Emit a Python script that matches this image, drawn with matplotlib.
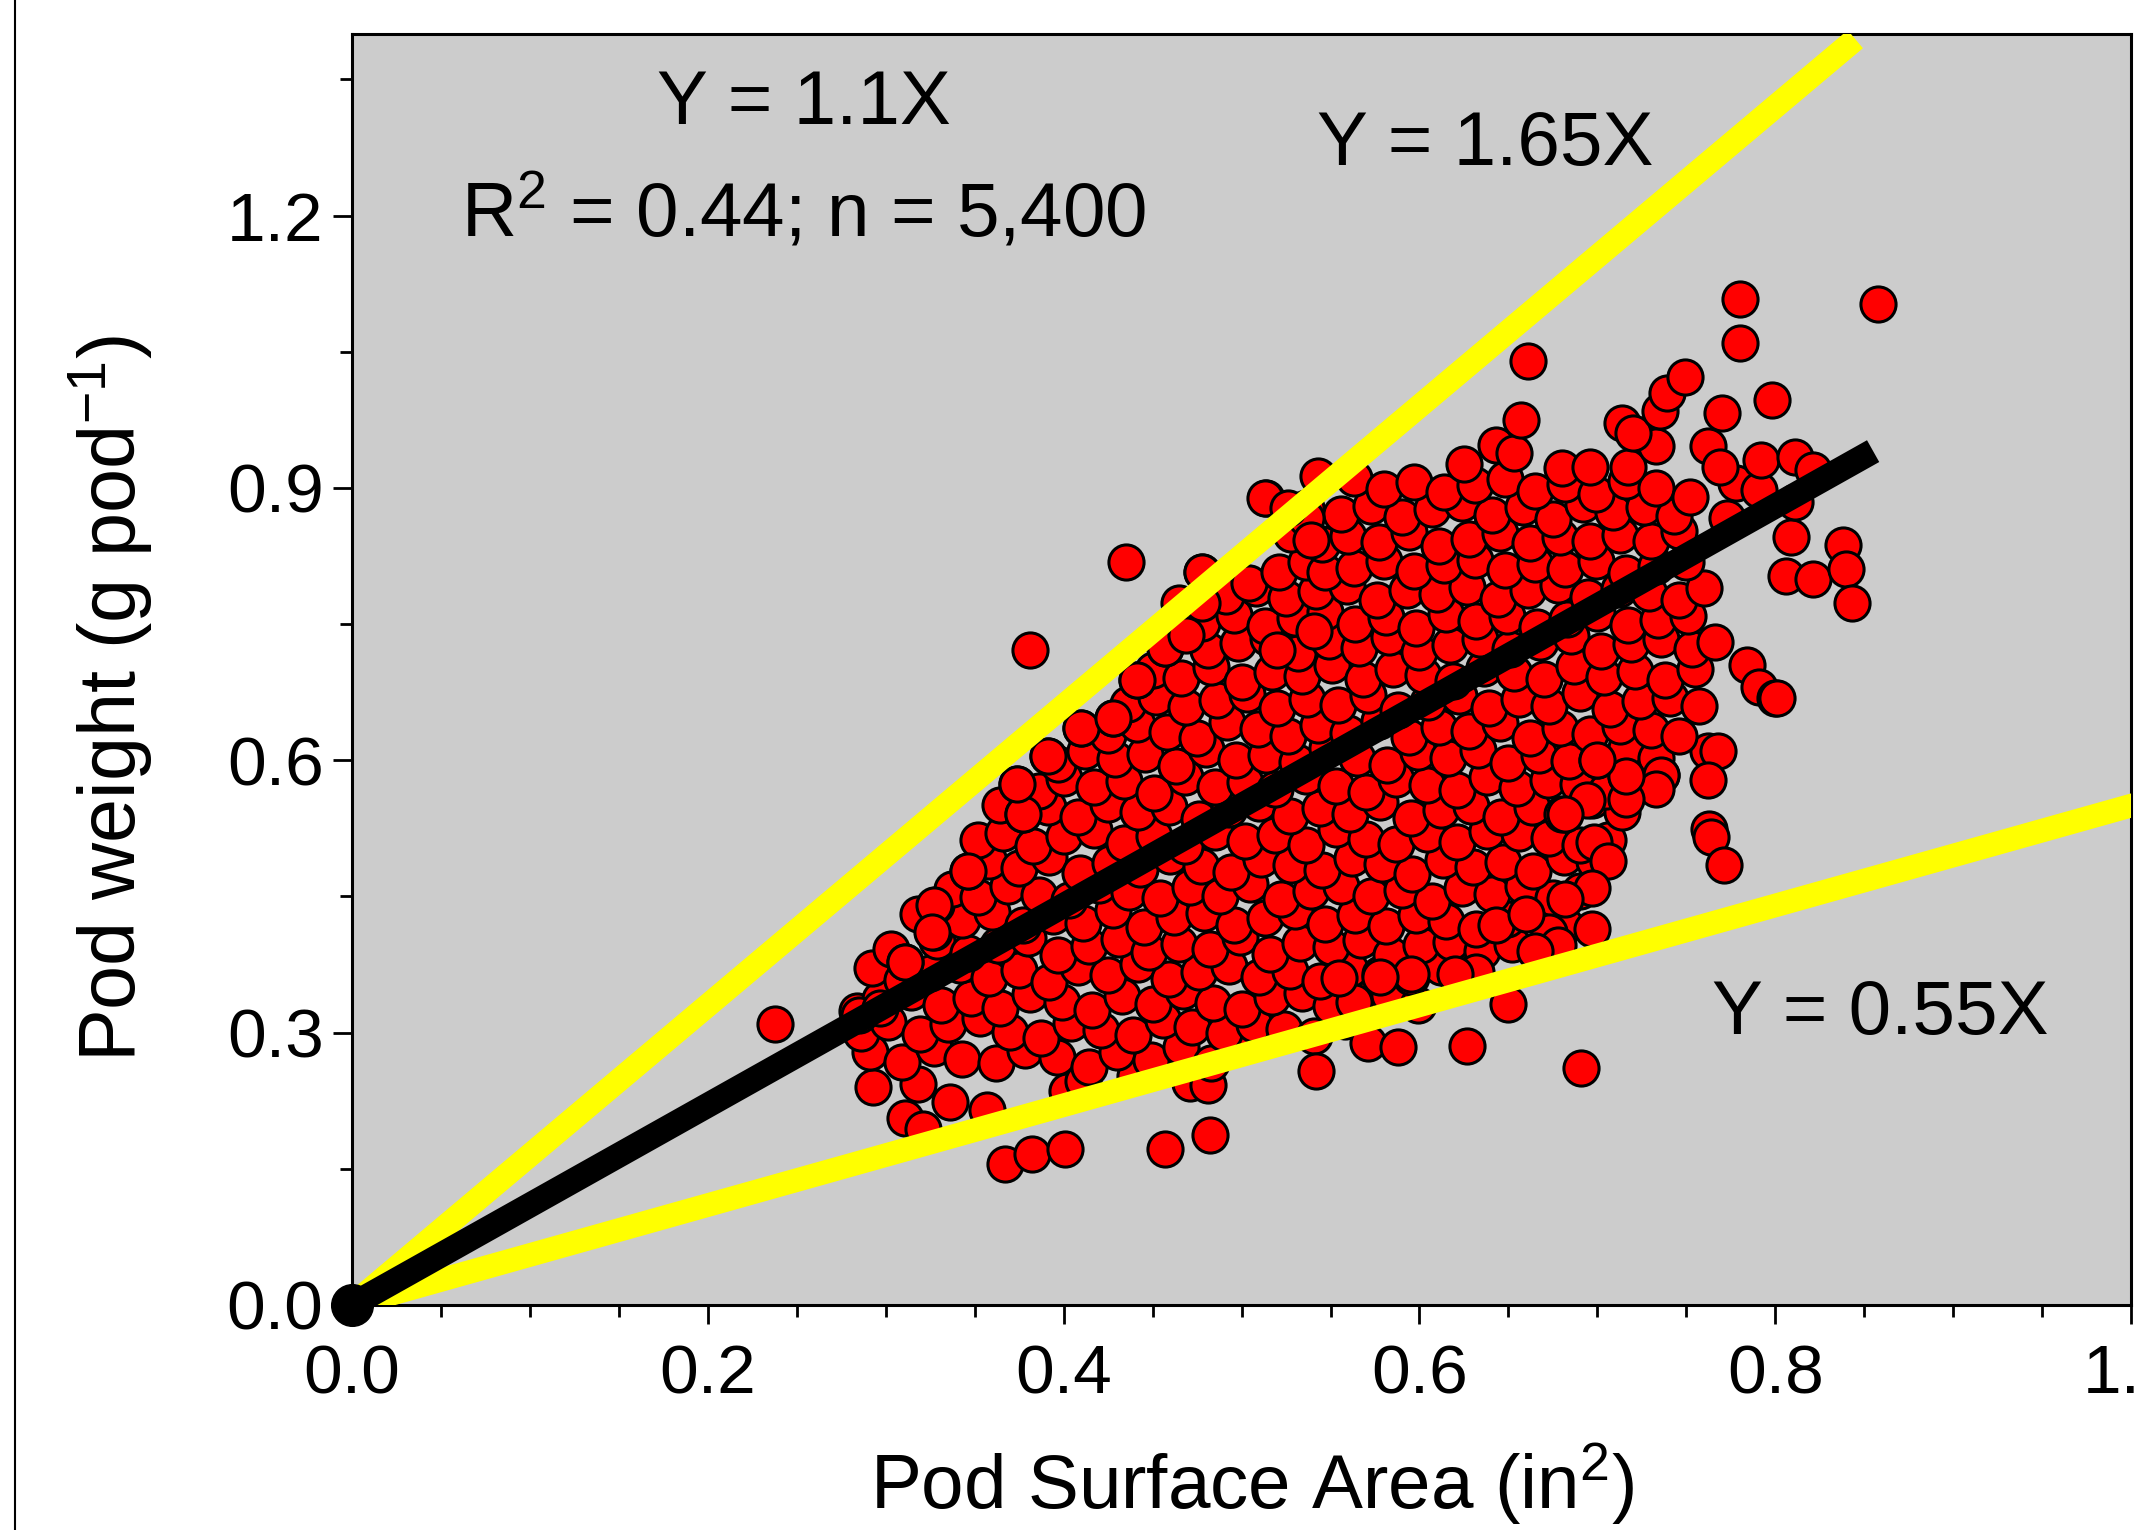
import matplotlib.pyplot as plt
from matplotlib.lines import Line2D
from matplotlib.ticker import MultipleLocator, FormatStrFormatter

plt.rcParams['font.family'] = ['Liberation Sans', 'DejaVu Sans']

pod_area = [
    0.293, 0.318, 0.336, 0.357, 0.402, 0.411, 0.440, 0.471, 0.481,
    0.291, 0.309, 0.327, 0.343, 0.362, 0.378, 0.396, 0.414, 0.430, 0.449, 0.466, 0.483, 0.499,
    0.286, 0.301, 0.319, 0.335, 0.353, 0.370, 0.387, 0.404, 0.421, 0.439,
    0.456, 0.472, 0.490, 0.507, 0.524, 0.541, 0.558,
    0.284, 0.297, 0.314, 0.331, 0.348, 0.364, 0.381, 0.399, 0.416, 0.433,
    0.450, 0.467, 0.484, 0.500, 0.517, 0.534, 0.550, 0.566, 0.583, 0.599,
    0.292, 0.309, 0.325, 0.342, 0.358, 0.375, 0.392, 0.408, 0.425, 0.442,
    0.459, 0.476, 0.493, 0.510, 0.527, 0.544, 0.561, 0.578, 0.595, 0.612, 0.630,
    0.303, 0.311, 0.329, 0.346, 0.363, 0.380, 0.397, 0.414, 0.431, 0.448,
    0.465, 0.482, 0.499, 0.516, 0.533, 0.550, 0.567, 0.584, 0.601, 0.618, 0.635, 0.652, 0.670,
    0.318, 0.327, 0.343, 0.360, 0.377, 0.394, 0.411, 0.428, 0.445, 0.462,
    0.479, 0.496, 0.513, 0.530, 0.547, 0.564, 0.581, 0.598, 0.615, 0.632, 0.649, 0.666, 0.682,
    0.328, 0.337, 0.352, 0.369, 0.386, 0.403, 0.420, 0.437, 0.454, 0.471,
    0.488, 0.505, 0.522, 0.539, 0.556, 0.573, 0.590, 0.607, 0.624, 0.641, 0.658, 0.675, 0.690,
    0.346, 0.358, 0.375, 0.392, 0.409, 0.426, 0.443, 0.460, 0.477, 0.494,
    0.511, 0.528, 0.545, 0.562, 0.579, 0.596, 0.613, 0.630, 0.647, 0.664, 0.681, 0.698,
    0.352, 0.366, 0.383, 0.400, 0.417, 0.434, 0.451, 0.468, 0.485, 0.502,
    0.519, 0.536, 0.553, 0.570, 0.587, 0.604, 0.621, 0.638, 0.656, 0.673, 0.690, 0.706,
    0.364, 0.377, 0.391, 0.408, 0.425, 0.442, 0.459, 0.476, 0.493, 0.510,
    0.527, 0.544, 0.561, 0.578, 0.595, 0.612, 0.629, 0.646, 0.663, 0.680, 0.697, 0.714,
    0.374, 0.386, 0.400, 0.417, 0.434, 0.451, 0.468, 0.485, 0.502, 0.519,
    0.536, 0.553, 0.570, 0.587, 0.604, 0.621, 0.638, 0.655, 0.672, 0.689, 0.705, 0.716, 0.736,
    0.391, 0.397, 0.412, 0.429, 0.446, 0.463, 0.480, 0.497, 0.514, 0.531,
    0.548, 0.565, 0.582, 0.599, 0.616, 0.633, 0.650, 0.667, 0.684, 0.700, 0.716, 0.733, 0.762,
    0.410, 0.425, 0.441, 0.458, 0.475, 0.492, 0.509, 0.526, 0.543, 0.560,
    0.577, 0.594, 0.611, 0.628, 0.645, 0.662, 0.679, 0.696, 0.713, 0.730, 0.746,
    0.428, 0.436, 0.452, 0.469, 0.486, 0.503, 0.520, 0.537, 0.554, 0.571,
    0.588, 0.605, 0.622, 0.639, 0.656, 0.673, 0.690, 0.707, 0.724, 0.741, 0.757,
    0.441, 0.450, 0.466, 0.483, 0.500, 0.517, 0.534, 0.551, 0.568, 0.585,
    0.602, 0.619, 0.636, 0.653, 0.670, 0.687, 0.704, 0.721, 0.738, 0.755, 0.784, 0.791, 0.800,
    0.457, 0.465, 0.481, 0.498, 0.515, 0.532, 0.549, 0.566, 0.583, 0.600,
    0.617, 0.634, 0.651, 0.668, 0.685, 0.702, 0.719, 0.736, 0.753, 0.766,
    0.465, 0.478, 0.496, 0.513, 0.530, 0.547, 0.564, 0.581, 0.598, 0.615,
    0.632, 0.649, 0.666, 0.683, 0.700, 0.717, 0.734, 0.751,
    0.478, 0.491, 0.508, 0.525, 0.542, 0.559, 0.576, 0.593, 0.610, 0.627,
    0.644, 0.661, 0.678, 0.695, 0.712, 0.729, 0.746, 0.760,
    0.504, 0.521, 0.536, 0.547, 0.563, 0.580, 0.597, 0.614, 0.631, 0.648,
    0.665, 0.682, 0.699, 0.716, 0.733, 0.750,
    0.528, 0.545, 0.560, 0.577, 0.594, 0.611, 0.628, 0.645, 0.662, 0.679,
    0.696, 0.713, 0.730, 0.746, 0.809,
    0.514, 0.536, 0.556, 0.573, 0.590, 0.607, 0.624, 0.641, 0.658, 0.675,
    0.692, 0.709, 0.726, 0.743, 0.773, 0.811,
    0.563, 0.580, 0.597, 0.614, 0.631, 0.648, 0.665, 0.682, 0.699, 0.716,
    0.733, 0.752, 0.778, 0.791,
    0.625, 0.643, 0.653, 0.680, 0.696, 0.717, 0.733, 0.762, 0.769, 0.792,
    0.811, 0.821,
    # stragglers below the cloud
    0.238, 0.311, 0.321, 0.367, 0.382, 0.401, 0.457, 0.482, 0.542, 0.571,
    0.588, 0.627, 0.691,
    # stragglers above the cloud
    0.435, 0.381, 0.478, 0.478, 0.513, 0.536, 0.539, 0.543, 0.657, 0.661,
    0.714, 0.720, 0.735, 0.739, 0.749, 0.770, 0.798, 0.780, 0.780, 0.858,
    # right-hand edge
    0.806, 0.821, 0.838, 0.840, 0.843, 0.801, 0.768, 0.762, 0.763, 0.764,
    0.771, 0.736, 0.733, 0.716, 0.716, 0.700, 0.694, 0.682, 0.698, 0.706,
    0.697, 0.682, 0.697, 0.673, 0.678, 0.665, 0.643, 0.660, 0.650, 0.632,
    0.620, 0.595, 0.578, 0.563, 0.555,
    # left-hand edge
    0.285, 0.297, 0.311, 0.327, 0.326, 0.346, 0.377, 0.374, 0.391, 0.410,
    0.428, 0.441, 0.457, 0.469, 0.520, 0.541, 0.526,
]

# pod weight (g pod^-1), same order
pod_weight = [
    0.240, 0.243, 0.223, 0.215, 0.236, 0.247, 0.252, 0.245, 0.242,
    0.279, 0.268, 0.283, 0.271, 0.266, 0.281, 0.273, 0.262, 0.279, 0.270, 0.284, 0.266, 0.288,
    0.300, 0.312, 0.298, 0.309, 0.316, 0.301, 0.294, 0.311, 0.303, 0.297,
    0.314, 0.306, 0.299, 0.310, 0.304, 0.296, 0.313,
    0.324, 0.337, 0.345, 0.330, 0.338, 0.327, 0.342, 0.334, 0.325, 0.340,
    0.331, 0.346, 0.333, 0.326, 0.339, 0.344, 0.329, 0.336, 0.341, 0.330,
    0.371, 0.358, 0.366, 0.374, 0.360, 0.369, 0.356, 0.372, 0.363, 0.375,
    0.359, 0.367, 0.373, 0.361, 0.368, 0.357, 0.370, 0.364, 0.361, 0.372, 0.366,
    0.392, 0.378, 0.401, 0.388, 0.397, 0.404, 0.386, 0.395, 0.403, 0.389,
    0.398, 0.392, 0.405, 0.387, 0.399, 0.394, 0.402, 0.385, 0.396, 0.400, 0.390, 0.398, 0.393,
    0.431, 0.411, 0.424, 0.433, 0.418, 0.428, 0.421, 0.435, 0.416, 0.427,
    0.432, 0.419, 0.426, 0.434, 0.420, 0.429, 0.417, 0.430, 0.423, 0.414, 0.425, 0.431, 0.419,
    0.441, 0.458, 0.449, 0.461, 0.452, 0.446, 0.463, 0.455, 0.448, 0.460,
    0.451, 0.464, 0.447, 0.456, 0.462, 0.450, 0.457, 0.445, 0.459, 0.453, 0.461, 0.448, 0.456,
    0.478, 0.489, 0.481, 0.493, 0.476, 0.487, 0.480, 0.494, 0.483, 0.477,
    0.491, 0.485, 0.479, 0.492, 0.486, 0.475, 0.490, 0.482, 0.488, 0.478, 0.493, 0.489,
    0.512, 0.520, 0.506, 0.517, 0.523, 0.509, 0.516, 0.505, 0.521, 0.511,
    0.518, 0.507, 0.524, 0.513, 0.508, 0.519, 0.510, 0.522, 0.520, 0.514, 0.507, 0.512,
    0.551, 0.541, 0.548, 0.537, 0.552, 0.543, 0.549, 0.535, 0.546, 0.553,
    0.539, 0.547, 0.541, 0.554, 0.536, 0.545, 0.550, 0.538, 0.548, 0.541, 0.556, 0.543,
    0.574, 0.566, 0.580, 0.571, 0.577, 0.564, 0.582, 0.570, 0.576, 0.568,
    0.583, 0.572, 0.565, 0.579, 0.573, 0.567, 0.581, 0.569, 0.578, 0.574, 0.566, 0.583, 0.584,
    0.605, 0.596, 0.610, 0.601, 0.607, 0.594, 0.612, 0.600, 0.606, 0.598,
    0.613, 0.603, 0.595, 0.609, 0.602, 0.611, 0.597, 0.606, 0.599, 0.600, 0.614, 0.603, 0.610,
    0.636, 0.628, 0.640, 0.631, 0.625, 0.642, 0.634, 0.627, 0.639, 0.630,
    0.643, 0.626, 0.637, 0.632, 0.641, 0.624, 0.635, 0.629, 0.638, 0.633, 0.627,
    0.646, 0.662, 0.670, 0.659, 0.666, 0.673, 0.657, 0.668, 0.661, 0.672,
    0.655, 0.664, 0.671, 0.658, 0.667, 0.660, 0.674, 0.656, 0.665, 0.669, 0.660,
    0.688, 0.699, 0.691, 0.703, 0.686, 0.697, 0.693, 0.705, 0.689, 0.700,
    0.694, 0.687, 0.702, 0.696, 0.690, 0.704, 0.692, 0.698, 0.688, 0.701, 0.705, 0.681, 0.669,
    0.724, 0.738, 0.721, 0.729, 0.735, 0.718, 0.731, 0.724, 0.736, 0.719,
    0.727, 0.733, 0.722, 0.730, 0.737, 0.720, 0.728, 0.734, 0.723, 0.730,
    0.773, 0.751, 0.760, 0.748, 0.757, 0.763, 0.750, 0.758, 0.746, 0.761,
    0.753, 0.759, 0.747, 0.756, 0.762, 0.749, 0.755, 0.759,
    0.807, 0.781, 0.790, 0.779, 0.786, 0.792, 0.777, 0.788, 0.783, 0.791,
    0.778, 0.787, 0.793, 0.780, 0.789, 0.784, 0.776, 0.790,
    0.795, 0.807, 0.818, 0.807, 0.812, 0.819, 0.808, 0.815, 0.821, 0.809,
    0.816, 0.811, 0.820, 0.806, 0.814, 0.818,
    0.849, 0.838, 0.847, 0.840, 0.851, 0.836, 0.844, 0.850, 0.839, 0.846,
    0.841, 0.848, 0.842, 0.852, 0.846,
    0.889, 0.878, 0.871, 0.880, 0.868, 0.877, 0.883, 0.870, 0.879, 0.866,
    0.882, 0.873, 0.879, 0.869, 0.867, 0.884,
    0.911, 0.899, 0.906, 0.895, 0.903, 0.910, 0.897, 0.904, 0.893, 0.908,
    0.900, 0.890, 0.905, 0.898,
    0.926, 0.947, 0.938, 0.922, 0.923, 0.923, 0.946, 0.946, 0.923, 0.931,
    0.934, 0.920,
    # stragglers below the cloud
    0.309, 0.206, 0.194, 0.155, 0.166, 0.172, 0.172, 0.187, 0.258, 0.289,
    0.284, 0.285, 0.261,
    # stragglers above the cloud
    0.818, 0.721, 0.807, 0.773, 0.889, 0.867, 0.843, 0.913, 0.975, 1.040,
    0.971, 0.961, 0.985, 1.005, 1.022, 0.982, 0.997, 1.060, 1.108, 1.103,
    # right-hand edge
    0.803, 0.800, 0.837, 0.811, 0.773, 0.669, 0.610, 0.578, 0.524, 0.515,
    0.485, 0.584, 0.568, 0.557, 0.583, 0.600, 0.556, 0.541, 0.510, 0.489,
    0.459, 0.447, 0.414, 0.411, 0.397, 0.390, 0.419, 0.431, 0.331, 0.367,
    0.364, 0.364, 0.361, 0.334, 0.360,
    # left-hand edge
    0.319, 0.327, 0.378, 0.441, 0.411, 0.478, 0.541, 0.574, 0.605, 0.636,
    0.646, 0.688, 0.724, 0.738, 0.721, 0.742, 0.878,
]

# reference lines Y = kX and where each one stops on the x axis
ref_slopes = [1.65, 0.55]
ref_x_end = [0.845, 1.05]
fit_slope = 1.1
fit_x = [0.0, 0.855]

fig = plt.figure(figsize=(21.36, 15.30), dpi=100)
ax = fig.add_axes([0.1648, 0.1471, 0.8329, 0.8307])
ax.set_facecolor('#cccccc')

ax.scatter(pod_area, pod_weight, s=640, c='#ff0000', edgecolors='black',
           linewidths=2.2, zorder=2)

for k, xe in zip(ref_slopes, ref_x_end):
    ax.plot([0, xe], [0, k * xe], color='#ffff00', lw=17,
            solid_capstyle='butt', zorder=3)
ax.plot(fit_x, [fit_slope * x for x in fit_x], color='black', lw=18,
        solid_capstyle='butt', zorder=4)
ax.plot(fit_x[:1], [0.0], 'o', color='black', ms=30, clip_on=False, zorder=5)

ax.set_xlim(0, 1.0)
ax.set_ylim(0, 1.4)
ax.xaxis.set_major_locator(MultipleLocator(0.2))
ax.xaxis.set_minor_locator(MultipleLocator(0.05))
ax.yaxis.set_major_locator(MultipleLocator(0.3))
ax.yaxis.set_minor_locator(MultipleLocator(0.15))
ax.xaxis.set_major_formatter(FormatStrFormatter('%.1f'))
ax.yaxis.set_major_formatter(FormatStrFormatter('%.1f'))
ax.tick_params(which='major', direction='out', length=14, width=2, labelsize=50)
ax.tick_params(which='minor', direction='out', length=8.5, width=2)
ax.tick_params(axis='x', pad=14)
ax.tick_params(axis='y', pad=6.5)
for sp in ax.spines.values():
    sp.set_linewidth(2.2)

ax.text(0.254, 1.301, 'Y = 1.1X', ha='center', va='baseline', fontsize=55)
ax.text(0.254, 1.177, r'R$\mathregular{^2}$ = 0.44; n = 5,400',
        ha='center', va='baseline', fontsize=55)
ax.text(0.637, 1.256, 'Y = 1.65X', ha='center', va='baseline', fontsize=55)
ax.text(0.859, 0.298, 'Y = 0.55X', ha='center', va='baseline', fontsize=55)

ax.set_xlabel(r'Pod Surface Area (in$\mathregular{^2}$)', fontsize=55, va='baseline')
ax.xaxis.set_label_coords(0.506, -0.1605)
ax.set_ylabel(r'Pod weight (g pod$\mathregular{^{-1}}$)', fontsize=57, va='baseline')
ax.yaxis.set_label_coords(-0.1214, 0.4776)

fig.add_artist(Line2D([15 / 2136, 15 / 2136], [0, 1], transform=fig.transFigure,
                      color='black', lw=1.5))

fig.savefig('out.png', dpi=100)
